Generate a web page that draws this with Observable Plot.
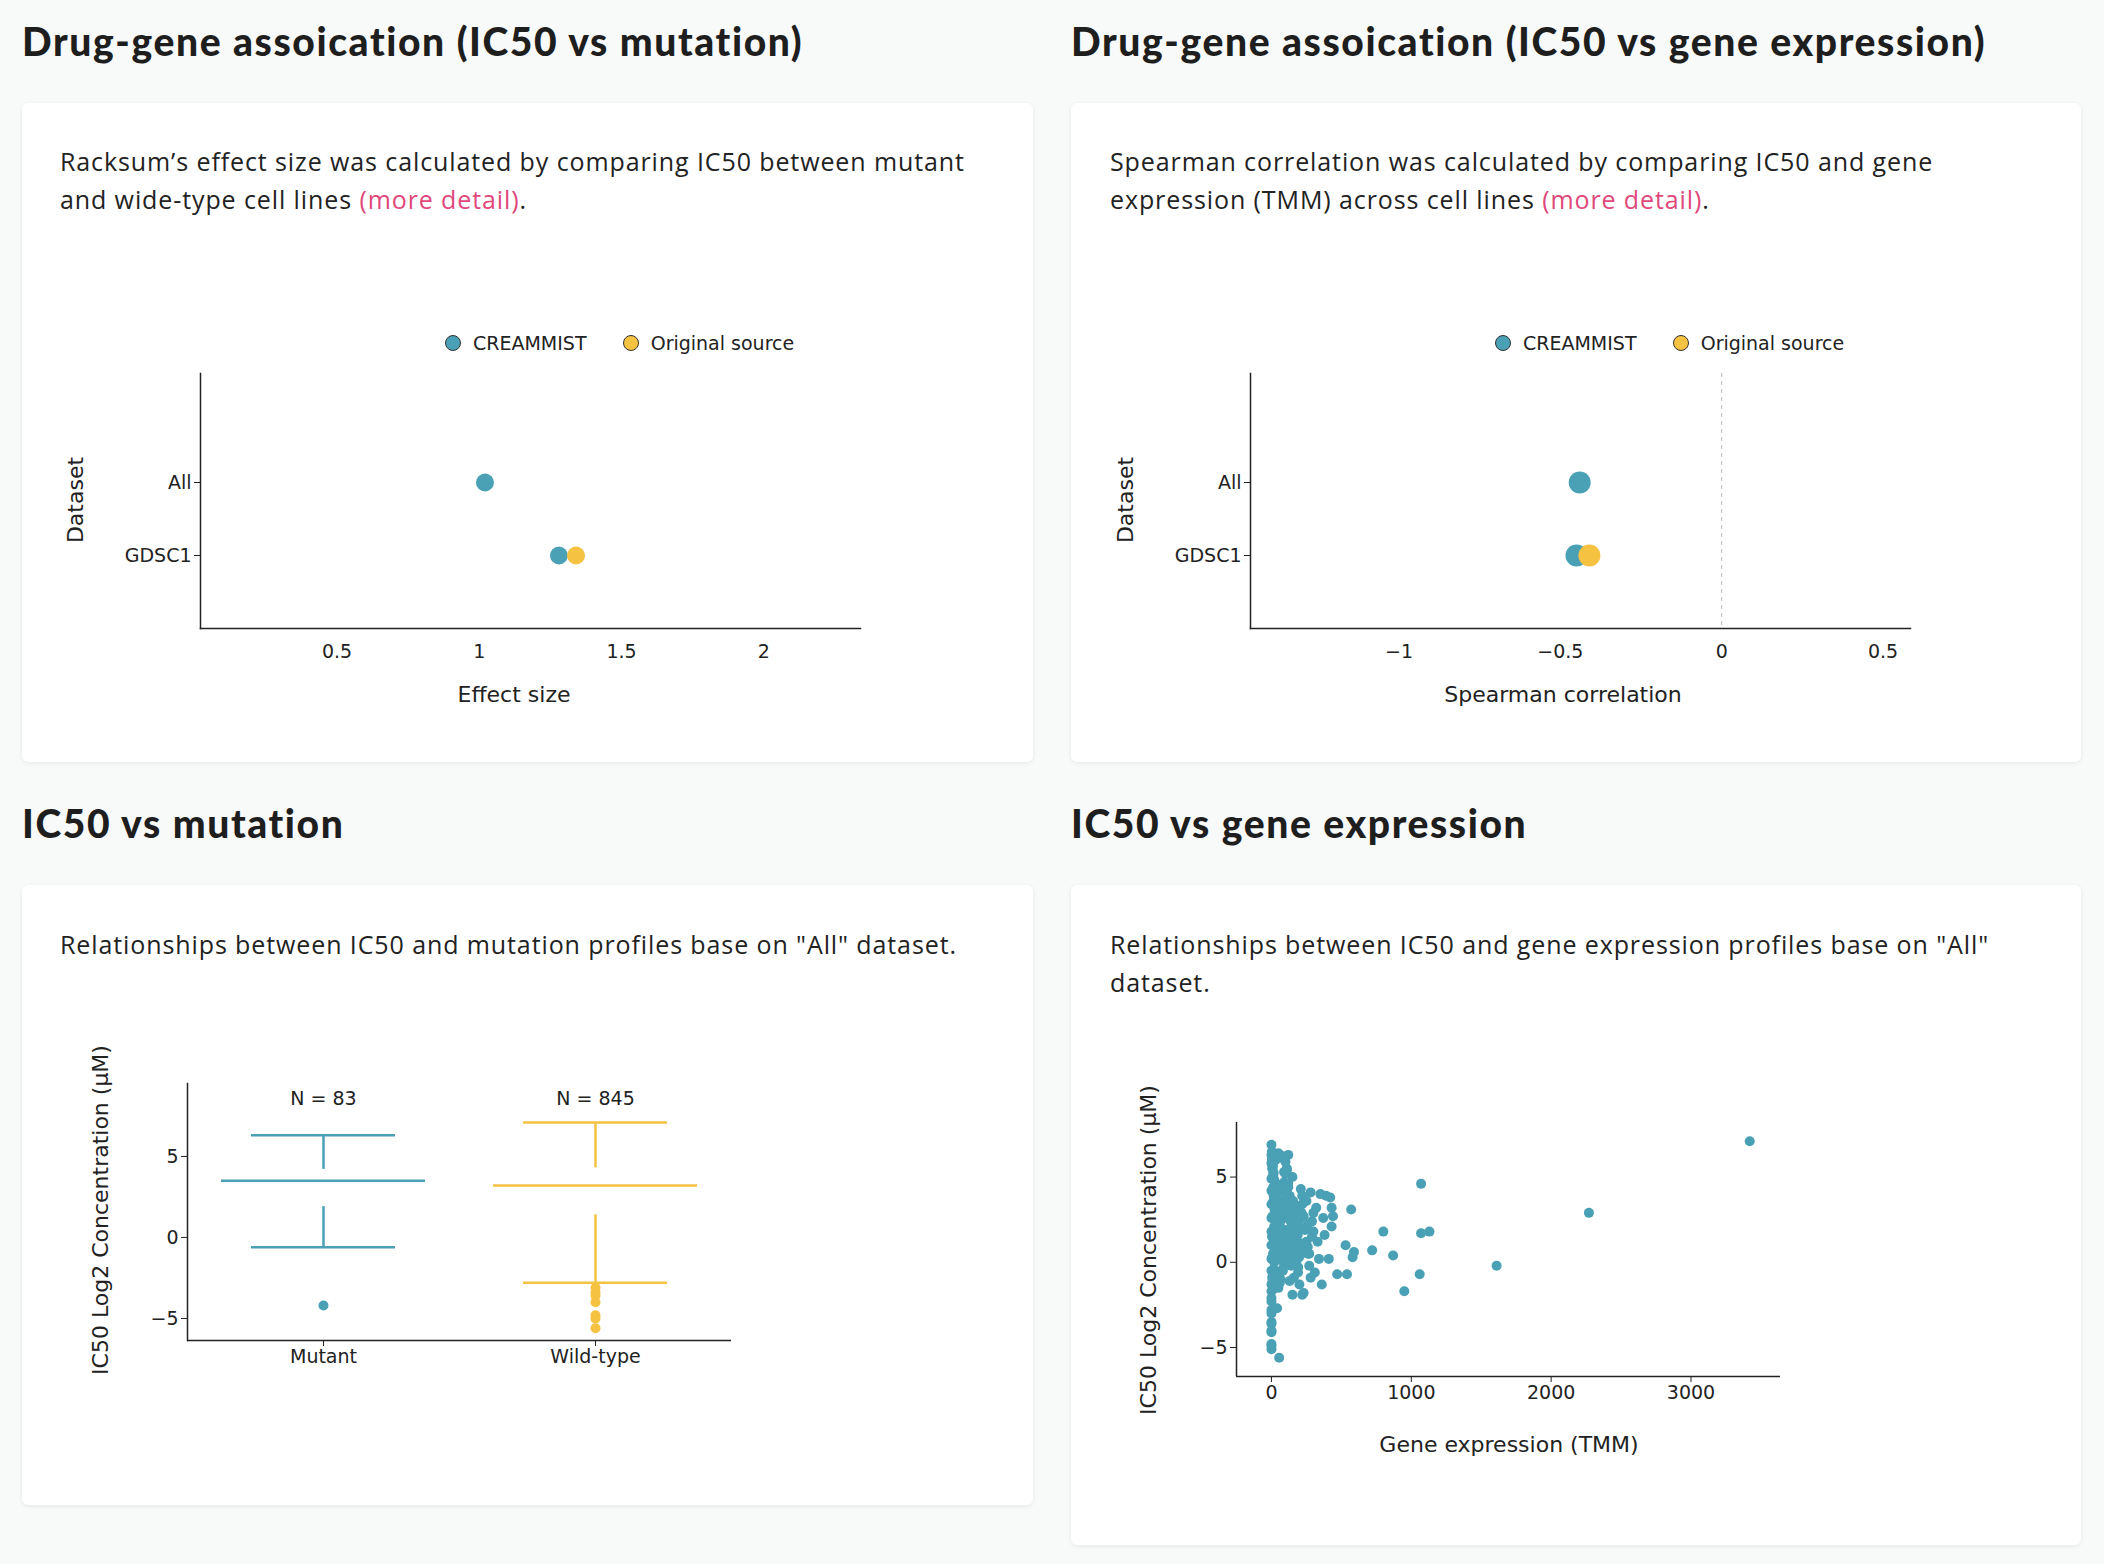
<!DOCTYPE html>
<html><head><meta charset="utf-8">
<script src="https://cdn.jsdelivr.net/npm/d3@7"></script>
<script src="https://cdn.jsdelivr.net/npm/@observablehq/plot@0.6"></script>
<style>
body{margin:0;background:#f8f9f9;font-family:"Open Sans",Inter,sans-serif;color:#222;width:2104px;height:1564px;position:relative}
h2{position:absolute;margin:0;font-family:Lato,Inter,sans-serif;font-weight:900;font-size:39px;letter-spacing:1.6px;color:#1e1e1e}
.card{position:absolute;background:#fff;border-radius:6px;box-shadow:0 1px 4px rgba(0,0,0,.08)}
.desc{position:absolute;font-size:25px;letter-spacing:0.9px;line-height:38px;color:#222}
.desc span{color:#e0487b}
.chart{position:absolute}
.lab{position:absolute;font-family:"DejaVu Sans",sans-serif;font-size:22px;color:#222;white-space:nowrap}
.rot{transform:translate(-50%,-50%) rotate(-90deg)}
.hx{transform:translateX(-50%)}
.legend{position:absolute;font-family:"DejaVu Sans",sans-serif;font-size:19px;color:#222;display:flex;align-items:center;gap:12px}
.dot{width:14px;height:14px;border-radius:50%;display:inline-block;border:1px solid #333}
</style></head><body>
<h2 style="left:22px;top:18px">Drug-gene assoication (IC50 vs mutation)</h2>
<h2 style="left:1071px;top:18px">Drug-gene assoication (IC50 vs gene expression)</h2>
<div class="card" style="left:22px;top:103px;width:1011px;height:659px"></div>
<div class="card" style="left:1071px;top:103px;width:1010px;height:659px"></div>
<h2 style="left:22px;top:800px">IC50 vs mutation</h2>
<h2 style="left:1071px;top:800px">IC50 vs gene expression</h2>
<div class="card" style="left:22px;top:885px;width:1011px;height:620px"></div>
<div class="card" style="left:1071px;top:885px;width:1010px;height:660px"></div>
<div class="desc" style="left:60px;top:142px;width:950px">Racksum’s effect size was calculated by comparing IC50 between mutant and wide-type cell lines <span>(more detail)</span>.</div>
<div class="desc" style="left:1110px;top:142px;width:950px">Spearman correlation was calculated by comparing IC50 and gene expression (TMM) across cell lines <span>(more detail)</span>.</div>
<div class="desc" style="left:60px;top:925px;width:950px">Relationships between IC50 and mutation profiles base on "All" dataset.</div>
<div class="desc" style="left:1110px;top:925px;width:950px">Relationships between IC50 and gene expression profiles base on "All" dataset.</div>
<div class="legend" style="left:445px;top:332px"><span class="dot" style="background:#4aa0b5"></span>CREAMMIST&nbsp;&nbsp;&nbsp;&nbsp;<span class="dot" style="background:#f5c242"></span>Original source</div>
<div class="legend" style="left:1495px;top:332px"><span class="dot" style="background:#4aa0b5"></span>CREAMMIST&nbsp;&nbsp;&nbsp;&nbsp;<span class="dot" style="background:#f5c242"></span>Original source</div>
<div class="lab rot" style="left:75px;top:500px">Dataset</div>
<div class="lab hx" style="left:514px;top:682px">Effect size</div>
<div class="lab rot" style="left:1125px;top:500px">Dataset</div>
<div class="lab hx" style="left:1563px;top:682px">Spearman correlation</div>
<div class="lab rot" style="left:100px;top:1210px">IC50 Log2 Concentration (μM)</div>
<div class="lab rot" style="left:1148px;top:1250px">IC50 Log2 Concentration (μM)</div>
<div class="lab hx" style="left:1509px;top:1432px">Gene expression (TMM)</div>
<div id="c1" class="chart" style="left:60px;top:320px"></div>
<div id="c2" class="chart" style="left:1110px;top:320px"></div>
<div id="c3" class="chart" style="left:60px;top:1030px"></div>
<div id="c4" class="chart" style="left:1110px;top:1070px"></div>
<script>
const teal = "#4aa0b5", yellow = "#f5c242";
const datasets = ["All", "GDSC1", "GDSC1"];
const sources = ["CREAMMIST", "CREAMMIST", "Original source"];
const effectSize = [1.02, 1.28, 1.34];
const spearman = [-0.44, -0.45, -0.41];

const groups = ["Mutant", "Wild-type"];
const groupN = [83, 845];
const whiskLo = [-0.6, -2.8], q1 = [1.9, 1.4], med = [3.5, 3.2], q3 = [4.2, 4.3], whiskHi = [6.3, 7.1];
const outGroup = ["Mutant", "Wild-type", "Wild-type", "Wild-type", "Wild-type", "Wild-type", "Wild-type", "Wild-type"];
const outVal = [-4.2, -3.1, -3.4, -3.6, -4.0, -4.8, -5.0, -5.6];

const exprX = [3420,2270,1610,1070,1070,1130,1060,950,870,800,720,590,580,570,540,530,470,440,430,430,420,410,390,380,370,360,350,340,330,320,310,300,290,280,270,260,250,240,230,220,210,200,190,180,170,160,150,140,130,120,110,100,90,80,70,60,50,40,30,20,10,5,0,0,0,0,0,0,0,0,0,0,0,0,0,0,0,0,
 5,10,15,20,25,30,35,40,45,50,55,60,65,70,75,80,85,90,95,100,110,120,130,140,150,160,170,180,190,200,210,220,230,240,250,260,270,280,290,300,
 5,10,15,20,25,30,35,40,45,50,60,70,80,90,100,110,120,130,150,170,190,210,230,260,
 2,8,12,18,22,28,32,38,42,48,55,65,75,85,95,105,115,125,135,145,155,175,195,215,
 3,6,9,14,17,24,27,33,44,52,62,72,82,92,102,112,122,142,162,182,
 60,80,100,120,50,30,20,10,0,0,0,0,0,0,0,0,40,55,220,150,60,5,
 4,7,11,16,21,26,31,36,41,46,51,58,68,78,88,98,108,118,128,138,148,158,168,178,188,198];
const exprY = [7.1,2.9,-0.2,4.6,1.7,1.8,-0.7,-1.7,0.4,1.8,0.7,0.6,0.3,3.1,-0.7,1.0,-0.7,2.7,2.1,3.2,3.8,0.2,3.9,1.6,2.6,-1.3,4.0,0.2,1.2,3.2,-0.6,2.9,1.5,4.1,0.5,2.2,3.6,1.1,-1.8,3.9,0.8,2.5,-0.3,1.9,3.3,-0.9,5.0,2.4,-1.1,4.4,0.1,3.0,5.3,-0.4,6.2,1.3,6.4,-0.8,6.0,2.1,3.5,5.5,6.9,6.3,5.8,4.9,4.2,3.4,2.6,1.8,1.0,0.2,-0.5,-1.3,-2.8,-3.5,-4.1,-4.8,
 6.1,5.6,5.2,4.8,4.5,4.1,3.8,3.5,3.2,2.9,2.6,2.3,2.0,1.7,1.4,1.1,0.8,0.5,0.2,-0.1,5.4,4.6,3.9,3.0,2.2,1.5,0.8,0.1,-0.6,-1.3,4.3,3.4,2.7,1.9,1.2,0.5,-0.2,-0.9,2.4,1.8,
 -1.2,-0.8,-0.4,0.0,0.4,0.9,1.3,1.6,2.1,2.5,3.0,3.6,4.2,4.7,5.2,5.5,3.3,2.8,1.4,0.6,-0.3,1.1,2.0,0.9,
 5.9,5.0,4.4,3.7,3.1,2.4,1.9,1.2,0.7,0.3,-0.7,-1.0,0.6,1.8,2.7,3.9,4.6,1.0,0.3,2.2,3.6,1.7,0.4,2.9,
 6.5,6.0,5.7,5.3,4.9,4.0,3.6,2.8,2.2,1.6,0.9,0.1,-0.5,2.6,3.4,1.9,0.7,-0.2,1.3,2.5,
 6.3,6.1,5.9,6.3,-1.5,-1.0,-1.4,-1.6,-3.0,-3.6,-4.0,-4.9,-5.1,-1.7,-2.3,-2.1,-2.7,-5.6,-1.9,-1.9,-1.2,-0.9,
 1.5,2.7,0.5,3.9,1.2,4.7,2.3,0.8,3.1,1.9,4.3,0.4,2.0,3.5,1.4,2.8,0.9,3.3,1.7,2.4,0.6,3.0,1.1,2.2,1.6,0.3];

const font = {fontFamily: "DejaVu Sans, sans-serif", fontSize: "19px", color: "#222", background: "transparent", overflow: "visible"};
const minus = d => String(d).replace("-", "\u2212");
const dots = datasets.map((d, i) => ({dataset: d, source: sources[i], eff: effectSize[i], rho: spearman[i]}));
const colorOpt = {domain: ["CREAMMIST", "Original source"], range: [teal, yellow]};

function dotPlot(xKey, xDomain, ticks, r, extra) {
  return Plot.plot({
    width: 840, height: 420, marginLeft: 140, marginTop: 53, marginBottom: 112, marginRight: 40,
    style: font,
    x: {domain: xDomain, ticks: ticks, label: null, tickFormat: minus, tickSize: 0, tickPadding: 16},
    y: {type: "point", domain: ["All", "GDSC1"], padding: 1, insetTop: 35, label: null},
    color: colorOpt,
    marks: [
      ...extra,
      Plot.frame({anchor: "bottom", stroke: "#222", strokeWidth: 1.5}),
      Plot.frame({anchor: "left", stroke: "#222", strokeWidth: 1.5}),
      Plot.dot(dots, {x: xKey, y: "dataset", fill: "source", r: r})
    ]
  });
}
document.getElementById("c1").append(dotPlot("eff", [0.02, 2.34], [0.5, 1, 1.5, 2], 9, []));
document.getElementById("c2").append(dotPlot("rho", [-1.46, 0.585], [-1, -0.5, 0, 0.5], 11,
  [Plot.ruleX([0], {stroke: "#bbb", strokeDasharray: "4,4"})]));

const boxes = groups.map((g, i) => ({g, n: groupN[i], lo: whiskLo[i], q1: q1[i], med: med[i], q3: q3[i], hi: whiskHi[i]}));
const outs = outVal.map((v, i) => ({g: outGroup[i], v}));
const boxColor = {domain: groups, range: [teal, yellow]};
const boxFill = {Mutant: "#a8d0da", "Wild-type": "#fae1a0"};
document.getElementById("c3").append(Plot.plot({
  width: 700, height: 350, marginLeft: 127, marginTop: 53, marginBottom: 40, marginRight: 29,
  style: font,
  x: {domain: groups, paddingInner: 0, paddingOuter: 0, label: null, tickSize: 6},
  y: {domain: [-6.36, 9.5], ticks: [-5, 0, 5], label: null, tickFormat: minus},
  color: boxColor,
  marks: [
    Plot.ruleX(boxes, {x: "g", y1: "lo", y2: "q1", stroke: "g", strokeWidth: 2.5}),
    Plot.ruleX(boxes, {x: "g", y1: "q3", y2: "hi", stroke: "g", strokeWidth: 2.5}),
    Plot.tickY(boxes, {x: "g", y: "lo", stroke: "g", strokeWidth: 2.5, inset: 64}),
    Plot.tickY(boxes, {x: "g", y: "hi", stroke: "g", strokeWidth: 2.5, inset: 64}),
    Plot.barY(boxes, {x: "g", y1: "q1", y2: "q3", fill: d => boxFill[d.g], stroke: "g", strokeWidth: 2.5, inset: 34}),
    Plot.tickY(boxes, {x: "g", y: "med", stroke: "g", strokeWidth: 2.5, inset: 34}),
    Plot.dot(outs, {x: "g", y: "v", fill: "g", r: 5}),
    Plot.text(boxes, {x: "g", y: 8.55, text: d => "N = " + d.n, fill: "#222", fontSize: 19}),
    Plot.ruleY([-6.36], {stroke: "#222", strokeWidth: 1.5}),
    Plot.frame({anchor: "left", stroke: "#222", strokeWidth: 1.5})
  ]
}));

const pts = exprX.map((x, i) => ({x, y: exprY[i]}));
document.getElementById("c4").append(Plot.plot({
  width: 720, height: 420, marginLeft: 126, marginTop: 52, marginBottom: 114, marginRight: 50,
  style: font,
  x: {domain: [-250, 3640], ticks: [0, 1000, 2000, 3000], tickFormat: d => String(d), label: null, tickSize: 6},
  y: {domain: [-6.7, 8.2], ticks: [-5, 0, 5], label: null, tickFormat: minus},
  marks: [
    Plot.dot(pts, {x: "x", y: "y", fill: teal, r: 5}),
    Plot.ruleY([-6.7], {stroke: "#222", strokeWidth: 1.5}),
    Plot.ruleX([-250], {stroke: "#222", strokeWidth: 1.5})
  ]
}));
</script>
</body></html>
